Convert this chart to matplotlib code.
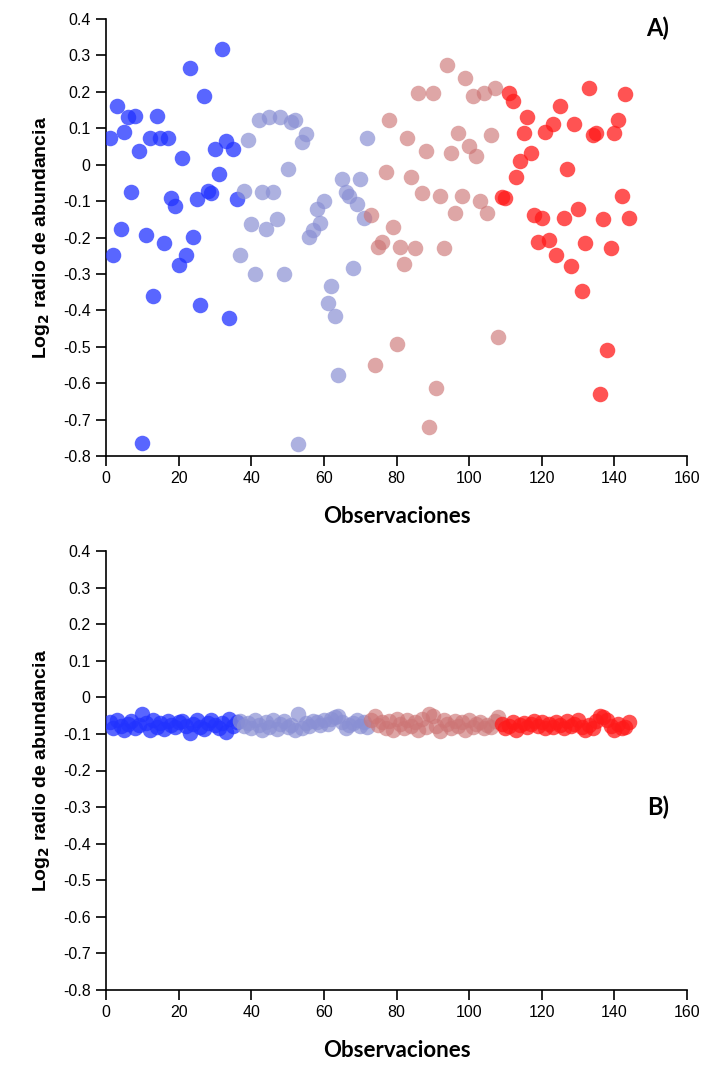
import matplotlib.pyplot as plt
from matplotlib.ticker import MultipleLocator, FuncFormatter

# Observaciones 1..144, cuatro grupos de 36
obs = list(range(1, 145))

# Panel A
a_azul = [0.074, -0.247, 0.161, -0.177, 0.091, 0.132, -0.076, 0.135, 0.037, -0.764,
          -0.194, 0.073, -0.360, 0.134, 0.073, -0.216, 0.073, -0.091, -0.114, -0.275,
          0.019, -0.247, 0.266, -0.199, -0.093, -0.386, 0.188, -0.071, -0.079, 0.042,
          -0.025, 0.318, 0.065, -0.420, 0.042, -0.095]
a_celeste = [-0.247, -0.071, 0.068, -0.163, -0.301, 0.122, -0.074, -0.177, 0.131, -0.074,
             -0.149, 0.131, -0.301, -0.011, 0.118, 0.123, -0.768, 0.063, 0.083, -0.198,
             -0.180, -0.123, -0.161, -0.100, -0.381, -0.332, -0.416, -0.577, -0.039, -0.076,
             -0.086, -0.283, -0.109, -0.039, -0.146, 0.073]
a_rosa = [-0.137, -0.550, -0.226, -0.211, -0.021, 0.122, -0.171, -0.493, -0.226, -0.274,
          0.072, -0.034, -0.230, 0.197, -0.079, 0.037, -0.719, 0.197, -0.613, -0.087,
          -0.230, 0.273, 0.032, -0.132, 0.086, -0.087, 0.237, 0.051, 0.188, 0.023,
          -0.101, 0.197, -0.132, 0.081, 0.210, -0.474]
a_rojo = [-0.088, -0.091, 0.196, 0.175, -0.034, 0.011, 0.086, 0.130, 0.033, -0.137,
          -0.212, -0.146, 0.090, -0.207, 0.113, -0.247, 0.162, -0.146, -0.012, -0.279,
          0.112, -0.123, -0.346, -0.216, 0.210, 0.081, 0.086, -0.630, -0.149, -0.510,
          -0.230, 0.086, 0.123, -0.085, 0.193, -0.146]

# Panel B
b_azul = [-0.068, -0.085, -0.062, -0.078, -0.088, -0.072, -0.065, -0.083, -0.075, -0.045,
          -0.070, -0.088, -0.063, -0.080, -0.071, -0.086, -0.066, -0.075, -0.082, -0.068,
          -0.064, -0.078, -0.097, -0.072, -0.062, -0.080, -0.087, -0.069, -0.062, -0.075,
          -0.083, -0.070, -0.096, -0.058, -0.078, -0.068]
b_celeste = [-0.065, -0.078, -0.070, -0.085, -0.062, -0.075, -0.088, -0.068, -0.080, -0.063,
             -0.087, -0.072, -0.065, -0.082, -0.076, -0.088, -0.045, -0.084, -0.070, -0.078,
             -0.066, -0.068, -0.075, -0.063, -0.072, -0.060, -0.055, -0.050, -0.068, -0.085,
             -0.075, -0.070, -0.062, -0.078, -0.068, -0.082]
b_rosa = [-0.062, -0.050, -0.075, -0.068, -0.083, -0.065, -0.090, -0.058, -0.072, -0.085,
          -0.062, -0.077, -0.068, -0.088, -0.060, -0.080, -0.045, -0.050, -0.078, -0.092,
          -0.062, -0.072, -0.085, -0.065, -0.078, -0.068, -0.088, -0.063, -0.080, -0.072,
          -0.068, -0.085, -0.075, -0.082, -0.065, -0.055]
b_rojo = [-0.072, -0.085, -0.078, -0.068, -0.088, -0.075, -0.070, -0.082, -0.072, -0.065,
          -0.078, -0.068, -0.085, -0.072, -0.080, -0.068, -0.075, -0.085, -0.066, -0.078,
          -0.072, -0.062, -0.080, -0.088, -0.075, -0.085, -0.065, -0.050, -0.055, -0.062,
          -0.078, -0.088, -0.072, -0.085, -0.080, -0.068]

colores = ['#2233ff', '#8a90d4', '#cd7676', '#ff1a1a']
alfas = [0.75, 0.7, 0.65, 0.75]

plt.rcParams['font.family'] = ['Liberation Sans', 'DejaVu Sans']

fig = plt.figure(figsize=(7.02, 10.70), dpi=100)
axA = fig.add_axes([106 / 702, 1 - 456 / 1070, 581 / 702, 437 / 1070])
axB = fig.add_axes([106 / 702, 1 - 990 / 1070, 581 / 702, 439 / 1070])


def fmt(v, pos):
    if abs(v) < 1e-9:
        return '0'
    return ('%.1f' % v)


for ax, grupos, letra, ly in [(axA, [a_azul, a_celeste, a_rosa, a_rojo], 'A)', 0.375),
                              (axB, [b_azul, b_celeste, b_rosa, b_rojo], 'B)', -0.30)]:
    for g, vals in enumerate(grupos):
        ax.scatter(obs[g * 36:(g + 1) * 36], vals, s=125, color=colores[g],
                   alpha=alfas[g], linewidths=0, zorder=3)
    ax.set_xlim(0, 160)
    ax.set_ylim(-0.8, 0.4)
    ax.xaxis.set_major_locator(MultipleLocator(20))
    ax.yaxis.set_major_locator(MultipleLocator(0.1))
    ax.yaxis.set_major_formatter(FuncFormatter(fmt))
    ax.spines['top'].set_visible(False)
    ax.spines['right'].set_visible(False)
    ax.spines['left'].set_linewidth(1.2)
    ax.spines['bottom'].set_linewidth(1.2)
    ax.tick_params(direction='out', length=7, width=1.2, labelsize=11.5, pad=4)
    ax.set_xlabel('Observaciones', family=['Lato', 'DejaVu Sans'], fontweight='bold',
                  fontsize=16, labelpad=14)
    ax.set_ylabel('Log$_\\mathbf{2}$ radio de abundancia', fontweight='bold', fontsize=14,
                  labelpad=8)
    ax.text(152, ly, letra, family=['Lato', 'DejaVu Sans'], fontweight='bold',
            fontsize=17, ha='center', va='center')

fig.savefig('out.png', dpi=100)
